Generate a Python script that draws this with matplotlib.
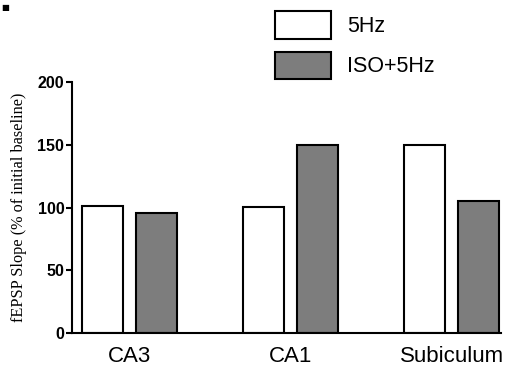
import matplotlib
matplotlib.use("Agg")
import matplotlib.pyplot as plt
import numpy as np
from matplotlib.patches import Patch

categories = ["CA3", "CA1", "Subiculum"]
series_names = ["5Hz", "ISO+5Hz"]
values_5hz = [101, 100.6, 150]
values_iso = [96, 150, 105.5]
yticks = [0, 50, 100, 150, 200]

plt.rcParams['font.family'] = ['Liberation Sans', 'DejaVu Sans']

fig = plt.figure(figsize=(5.05, 3.65), dpi=100)
ax = fig.add_axes([72/505, 1-333/365, (501-72)/505, (333-82)/365])

x = np.arange(len(categories))
w = 0.255
off = 0.335
gray = '#7d7d7d'
ax.bar(x - off/2, values_5hz, width=w, color='white', edgecolor='black', linewidth=1.5, zorder=2)
ax.bar(x + off/2, values_iso, width=w, color=gray, edgecolor='black', linewidth=1.5, zorder=2)

ax.set_xlim(-0.357, 2.307)
ax.set_ylim(0, 200)
ax.set_yticks(yticks)
ax.set_yticklabels([str(t) for t in yticks], fontsize=11.5, fontweight='bold')
ax.set_xticks(x)
ax.set_xticklabels(categories, fontsize=16)
ax.tick_params(axis='x', length=0, pad=9)
ax.tick_params(axis='y', length=4.5, width=1.5, pad=1, direction='out')
for s in ['top', 'right']:
    ax.spines[s].set_visible(False)
for s in ['left', 'bottom']:
    ax.spines[s].set_linewidth(1.5)

ax.set_ylabel("fEPSP Slope (% of initial baseline)", fontsize=11.7,
              family=['Liberation Serif', 'DejaVu Serif'])
ax.yaxis.set_label_coords(-0.105, 0.5)

handles = [Patch(facecolor='white', edgecolor='black', linewidth=1.5),
           Patch(facecolor=gray, edgecolor='black', linewidth=1.5)]
fig.legend(handles, series_names, loc='upper left',
           bbox_to_anchor=(275/505, 1-11/365), frameon=False, fontsize=15.5,
           handlelength=2.6, handleheight=1.6, handletextpad=0.75,
           labelspacing=0.6, borderpad=0, borderaxespad=0)

fig.text(1/505, 1-3/365, "■", fontsize=6, ha='left', va='top', family=['DejaVu Sans'])

fig.savefig("out.png", dpi=100)
